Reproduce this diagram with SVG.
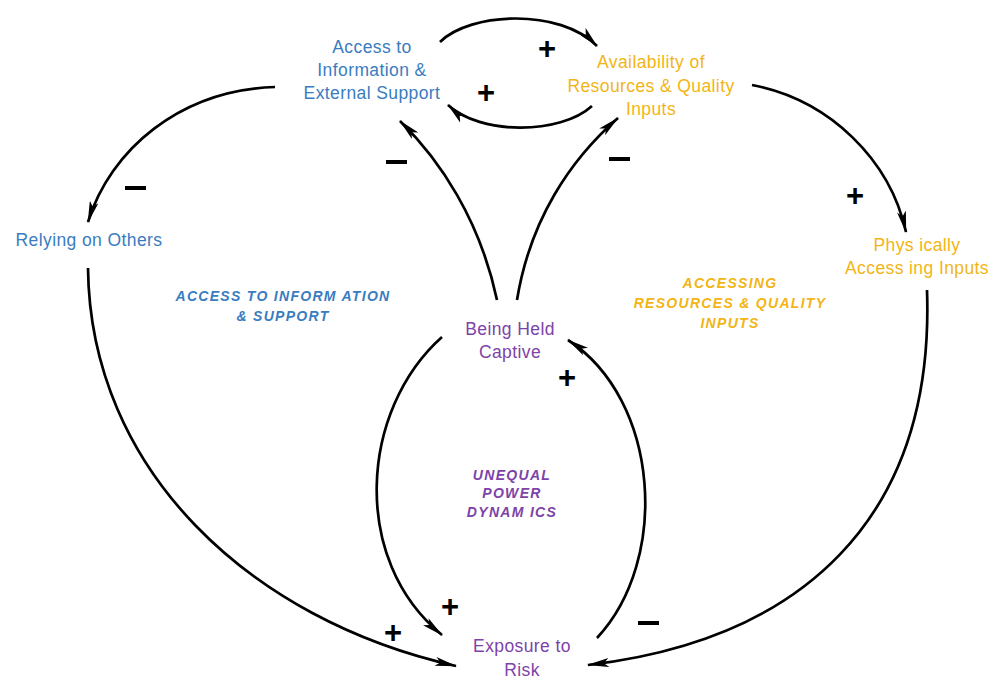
<svg xmlns="http://www.w3.org/2000/svg" width="992" height="679" viewBox="0 0 992 679">
  <defs>
    <marker id="arrow" viewBox="0 0 22 9" refX="21" refY="4.5" markerWidth="22" markerHeight="9" markerUnits="userSpaceOnUse" orient="auto">
      <path d="M0,0 L22,4.5 L0,9 L5,4.5 Z" fill="#000"/>
    </marker>
    <style>
      .link { fill: none; stroke: #000; stroke-width: 2.7; marker-end: url(#arrow); }
      .node { font-family: "Liberation Sans", Arial, sans-serif; font-size: 17.5px; text-anchor: middle; letter-spacing: 0.4px; }
      .loop { font-family: "Liberation Sans", Arial, sans-serif; font-size: 14px; font-weight: bold; font-style: italic; text-anchor: middle; letter-spacing: 1.3px; }
      .sign { font-family: "Liberation Sans", Arial, sans-serif; font-size: 31px; font-weight: bold; text-anchor: middle; fill: #000; }
      .blue { fill: #3a7cc0; }
      .gold { fill: #f2b515; }
      .purple { fill: #7d43a8; }
    </style>
  </defs>
  <rect width="992" height="679" fill="#fff"/>

  <!-- causal links -->
  <g id="connectors">
    <path class="link" d="M440,42 C470,12 560,8 597,46"/>
    <path class="link" d="M592,106 C560,135 480,135 448,105"/>
    <path class="link" d="M497,300 C480,220 440,160 400,121"/>
    <path class="link" d="M517,300 C530,220 570,160 618,118"/>
    <path class="link" d="M752,85 C830,100 890,160 906,232"/>
    <path class="link" d="M275,87 C180,90 110,150 88,222"/>
    <path class="link" d="M88,268 C90,470 250,620 456,666"/>
    <path class="link" d="M442,337 C360,410 350,560 442,635"/>
    <path class="link" d="M597,638 C670,560 660,400 568,340"/>
    <path class="link" d="M927,290 C935,520 800,640 588,665"/>
  </g>

  <!-- link polarities -->
  <g id="polarities">
    <text class="sign" x="547" y="59">+</text>
    <text class="sign" x="486" y="103">+</text>
    <rect x="386" y="160" width="21" height="4"/>
    <rect x="609" y="157" width="21" height="4"/>
    <text class="sign" x="855" y="206">+</text>
    <rect x="125" y="186" width="21" height="4"/>
    <text class="sign" x="567" y="388">+</text>
    <text class="sign" x="450" y="617">+</text>
    <text class="sign" x="393" y="643">+</text>
    <rect x="638" y="621" width="21" height="4"/>
  </g>

  <!-- variables -->
  <g id="access-info">
    <text class="node blue" x="372" y="53">Access to</text>
    <text class="node blue" x="372" y="76">Information &amp;</text>
    <text class="node blue" x="372" y="99">External Support</text>
  </g>
  <g id="availability">
    <text class="node gold" x="651" y="68">Availability of</text>
    <text class="node gold" x="651" y="92">Resources &amp; Quality</text>
    <text class="node gold" x="651" y="115">Inputs</text>
  </g>
  <g id="relying">
    <text class="node blue" x="89" y="246">Relying on Others</text>
  </g>
  <g id="physical-access">
    <text class="node gold" x="917" y="251">Phys ically</text>
    <text class="node gold" x="917" y="274">Access ing Inputs</text>
  </g>
  <g id="held-captive">
    <text class="node purple" x="510" y="335">Being Held</text>
    <text class="node purple" x="510" y="358">Captive</text>
  </g>
  <g id="exposure">
    <text class="node purple" x="522" y="652">Exposure to</text>
    <text class="node purple" x="522" y="676">Risk</text>
  </g>

  <!-- loop names -->
  <g id="loop-access">
    <text class="loop blue" x="283" y="301">ACCESS TO INFORM ATION</text>
    <text class="loop blue" x="283" y="321">&amp; SUPPORT</text>
  </g>
  <g id="loop-resources">
    <text class="loop gold" x="730" y="288">ACCESSING</text>
    <text class="loop gold" x="730" y="308">RESOURCES &amp; QUALITY</text>
    <text class="loop gold" x="730" y="328">INPUTS</text>
  </g>
  <g id="loop-power">
    <text class="loop purple" x="512" y="480">UNEQUAL</text>
    <text class="loop purple" x="512" y="498">POWER</text>
    <text class="loop purple" x="512" y="517">DYNAM ICS</text>
  </g>
</svg>
